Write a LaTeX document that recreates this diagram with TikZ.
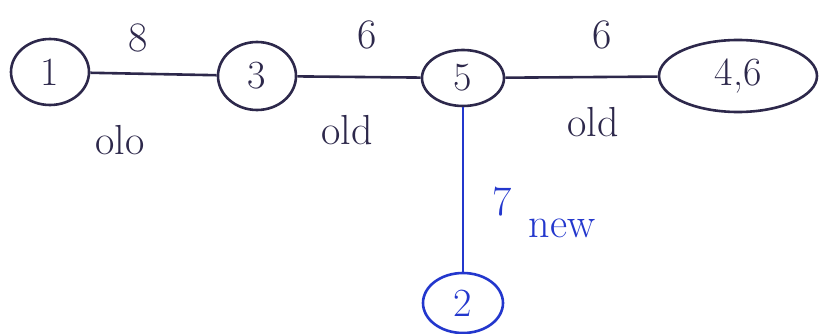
\documentclass[tikz,border=0pt]{standalone}
\usetikzlibrary{shapes.geometric}
\definecolor{ink}{RGB}{45,40,75}
\definecolor{bluink}{RGB}{35,55,205}
\begin{document}
\begin{tikzpicture}[x=1pt,y=-1pt,
  vert/.style={ellipse,draw=ink,line width=2.6pt,inner sep=0pt,text=ink,font=\fontsize{40}{42}\selectfont},
  bvert/.style={vert,draw=bluink,text=bluink},
  edge/.style={draw=ink,line width=2.6pt},
  bedge/.style={draw=bluink,line width=2.6pt},
  lab/.style={text=ink,font=\fontsize{42}{46}\selectfont},
  blab/.style={text=bluink,font=\fontsize{42}{46}\selectfont}]
\useasboundingbox[fill=white] (0,0) rectangle (820,334);
\node[vert,minimum width=78pt,minimum height=66pt] (n1) at (50,72) {1};
\node[vert,minimum width=78pt,minimum height=68pt] (n3) at (257,76) {3};
\node[vert,minimum width=82pt,minimum height=56pt] (n5) at (463,78) {5};
\node[vert,minimum width=158pt,minimum height=72pt] (n46) at (738,76) {4,6};
\node[bvert,minimum width=80pt,minimum height=60pt] (n2) at (463,303) {2};
\draw[edge] (n1) -- (n3);
\draw[edge] (n3) -- (n5);
\draw[edge] (n5) -- (n46);
\draw[bedge] (n5) -- (n2);
\node[lab] (w13) at (138,38) {8};
\node[lab] (o13) at (120,140) {olo};
\node[lab] (w35) at (367,35) {6};
\node[lab] (o35) at (347,130) {old};
\node[lab] (w546) at (602,35) {6};
\node[lab] (o546) at (593,122) {old};
\node[blab] (w52) at (502,202) {7};
\node[blab] (n52) at (562,228) {new};
\end{tikzpicture}
\end{document}
